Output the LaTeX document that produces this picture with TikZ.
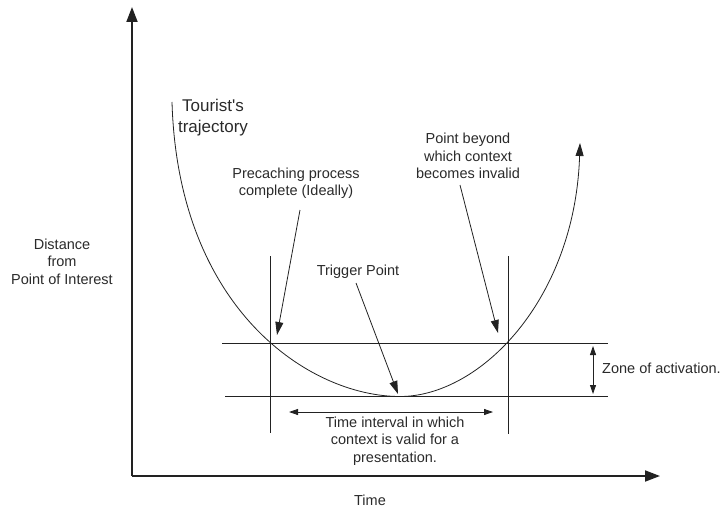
\documentclass[tikz,border=0pt]{standalone}
\usepackage{fontspec}
\setmainfont{Liberation Sans}
\usetikzlibrary{arrows.meta}
\definecolor{ink}{HTML}{222222}
\definecolor{txt}{HTML}{2a2a2a}
\tikzset{
  lbl/.style={text=txt, align=center, inner sep=0pt, font=\fontsize{14.5}{17.5}\selectfont},
  axis/.style={draw=ink, line width=1.8pt, -{Triangle[length=15pt,width=11pt]}},
  thin/.style={draw=ink, line width=0.8pt},
  pointer/.style={draw=ink, line width=0.8pt, -{Triangle[length=13pt,width=8pt]}},
  dbl/.style={draw=ink, line width=0.8pt, {Triangle[length=9pt,width=6pt]}-{Triangle[length=9pt,width=6pt]}},
}
\begin{document}
\begin{tikzpicture}[x=1pt,y=-1pt]
\useasboundingbox (0,0) rectangle (722,508);
% axes
\coordinate (origin) at (132,476);
\coordinate (ytip) at (132,7);
\coordinate (xtip) at (660,476);
\draw[axis] (origin) -- (ytip);
\draw[axis] (origin) -- (xtip);
% grid lines
\coordinate (h1a) at (222,343.5); \coordinate (h1b) at (608,343.5);
\coordinate (h2a) at (225,396.5); \coordinate (h2b) at (608,396.5);
\coordinate (v1a) at (270,256); \coordinate (v1b) at (270,433);
\coordinate (v2a) at (508,256); \coordinate (v2b) at (508,434);
\draw[thin] (h1a) -- (h1b);
\draw[thin] (h2a) -- (h2b);
\draw[thin] (v1a) -- (v1b);
\draw[thin] (v2a) -- (v2b);
% trajectory
\coordinate (tstart) at (172,102);
\coordinate (tmin) at (400,396.5);
\coordinate (tend) at (580,143);
\draw[draw=ink, line width=0.8pt, -{Triangle[length=13pt,width=8pt]}]
  (tstart) .. controls (178,310) and (310,396.5) .. (tmin)
  .. controls (480,396.5) and (575,300) .. (tend);
% labels
\node[lbl] (dist) at (62,261.5) {Distance\\from\\Point of Interest};
\node[lbl] (time) at (370,500) {Time};
\node[lbl, font=\fontsize{17}{21}\selectfont] (tour) at (213,118) {Tourist\textquotesingle s\\trajectory};
\node[lbl] (pre) at (296,183.5) {Precaching process\\complete (Ideally)};
\node[lbl] (beyond) at (468,156) {Point beyond\\which context\\becomes invalid};
\node[lbl] (trig) at (358,272) {Trigger Point};
\node[lbl, anchor=west] (zone) at (602,368) {Zone of activation.};
\node[lbl] (interval) at (395,441) {Time interval in which\\context is valid for a\\presentation.};
% pointers
\coordinate (preS) at (300,210); \coordinate (preE) at (277,335);
\coordinate (trS) at (356,283); \coordinate (trE) at (398,394);
\coordinate (bS) at (460,185); \coordinate (bE) at (498,333);
\draw[pointer] (preS) -- (preE);
\draw[pointer] (trS) -- (trE);
\draw[pointer] (bS) -- (bE);
% double arrows
\coordinate (zT) at (593,346); \coordinate (zB) at (593,394);
\coordinate (iL) at (289,412); \coordinate (iR) at (493,412);
\draw[dbl] (zT) -- (zB);
\draw[dbl] (iL) -- (iR);
\end{tikzpicture}
\end{document}
